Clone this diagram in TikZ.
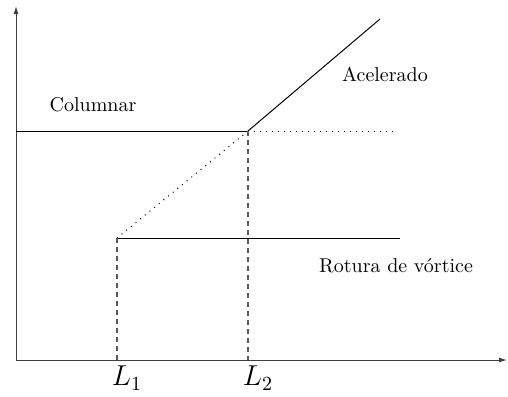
\documentclass[tikz,border=0pt]{standalone}
\usetikzlibrary{arrows.meta}
\begin{document}
\begin{tikzpicture}[x=0.5pt,y=-0.5pt,
  axis/.style={line width=0.5pt, draw=black!75, -{Latex[length=4pt,width=2.5pt]}},
  solidline/.style={line width=0.5pt, draw=black},
  dashline/.style={line width=0.55pt, draw=black!65, dash pattern=on 2.5pt off 2pt},
  dotline/.style={line width=0.5pt, draw=black, dash pattern=on 0.5pt off 2.5pt},
  lbl/.style={font=\normalsize, inner sep=0pt},
  mlbl/.style={font=\Large, inner sep=0pt}]
\useasboundingbox (0,0) rectangle (508,396);
\coordinate (O) at (16,360);
\coordinate (Ytop) at (16,6);
\coordinate (Xend) at (507,360);
\coordinate (C0) at (16,131);
\coordinate (P2) at (248,131);
\coordinate (P1) at (117,238);
\coordinate (A) at (380,19);
\coordinate (Dend) at (395,131);
\coordinate (R) at (400,238);
\coordinate (B1) at (117,360);
\coordinate (B2) at (248,360);
\draw[axis] (O) -- (Ytop);
\draw[axis] (O) -- (Xend);
\draw[solidline] (C0) -- (P2);
\draw[solidline] (P2) -- (A);
\draw[dotline] (P2) -- (Dend);
\draw[dotline] (P1) -- (P2);
\draw[solidline] (P1) -- (R);
\draw[dashline] (P1) -- (B1);
\draw[dashline] (P2) -- (B2);
\node[lbl] (tcol) at (93,105) {Columnar};
\node[lbl] (tacc) at (385,74) {Acelerado};
\node[lbl] (trot) at (396,266) {Rotura de vórtice};
\node[mlbl] (l1) at (127,378) {$L_1$};
\node[mlbl] (l2) at (258,378) {$L_2$};
\end{tikzpicture}
\end{document}
